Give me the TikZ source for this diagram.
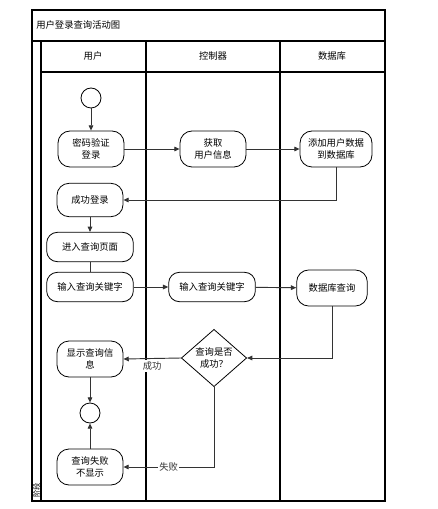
\documentclass[tikz,border=0pt]{standalone}
\usepackage{fontspec}
\setmainfont{Noto Sans CJK SC}
\usepackage{tikz}
\usetikzlibrary{arrows.meta, positioning, shapes.geometric}

\begin{document}
\begin{tikzpicture}[
    x=0.75pt, y=-0.75pt,
    font=\fontsize{7}{8.5}\selectfont,
    action/.style={rectangle, draw, rounded corners=9pt, minimum width=49.5pt, minimum height=27pt, align=center, inner sep=1pt, line width=0.6pt},
    wideaction/.style={action, rounded corners=8pt, minimum width=65pt, minimum height=22pt},
    decision/.style={diamond, draw, minimum width=49pt, minimum height=37.5pt, align=center, inner sep=0pt, line width=0.6pt},
    state/.style={circle, draw, minimum size=15pt, inner sep=0pt, line width=0.6pt},
    arrow/.style={-{Triangle[length=4pt, width=3.5pt]}, line width=0.7pt, draw=black!80},
    link/.style={line width=0.7pt, draw=black!80},
    frame/.style={line width=0.8pt},
    label/.style={fill=white, inner sep=1pt, text=black!80}
]
    \useasboundingbox (0,0) rectangle (437,509);

    % Frame and lanes
    \draw[frame] (32,10) rectangle (385,501);
    \draw[frame] (32,41) -- (385,41);
    \draw[frame] (41,72) -- (385,72);
    \draw[frame] (41,41) -- (41,501);
    \draw[frame] (146,41) -- (146,501);
    \draw[frame] (280,41) -- (280,501);
    \node[anchor=west, inner sep=0pt] (title) at (36,25) {用户登录查询活动图};
    \node (lane_user) at (93,56) {用户};
    \node (lane_ctrl) at (213,56) {控制器};
    \node (lane_db) at (332,56) {数据库};
    \node[rotate=90, font=\fontsize{5.5}{6}\selectfont, inner sep=0pt] (stage) at (36.5,490) {阶段};

    % Login
    \node[state] (start) at (91,98) {};
    \node[action] (pwd) at (91,149) {密码验证\\登录};
    \node[action] (fetch) at (213,149) {获取\\用户信息};
    \node[action, minimum width=54pt] (add) at (336,149) {添加用户数据\\到数据库};
    \node[action, minimum height=25pt] (succ) at (90,200) {成功登录};

    % Query
    \node[wideaction] (enter) at (90,247) {进入查询页面};
    \node[wideaction] (input_u) at (90,287) {输入查询关键字};
    \node[wideaction] (input_c) at (212,287) {输入查询关键字};
    \node[action, minimum width=53pt] (dbq) at (332,288) {数据库查询};
    \node[decision] (check) at (214,358) {查询是否\\成功？};
    \node[action] (show) at (90,359) {显示查询信\\息};
    \node[state] (finish) at (90,413) {};
    \node[action] (fail) at (90,467) {查询失败\\不显示};

    % Arrows
    \draw[arrow] (start) -- (pwd);
    \draw[arrow] (pwd) -- (fetch);
    \draw[arrow] (fetch) -- (add);
    \draw[arrow] (add.south) |- (succ.east);
    \draw[arrow] (succ) -- (enter);
    \draw[link] (enter) -- (input_u);
    \draw[arrow] (input_u) -- (input_c);
    \draw[arrow] (input_c) -- (dbq);
    \draw[arrow] (dbq.south) |- (check.east);
    \draw[arrow] (check.west) -- node[below, label, yshift=-1pt] {成功} (show.east);
    \draw[arrow] (show) -- (finish);
    \draw[arrow] (fail) -- (finish);
    \draw[arrow] (check.south) |- node[pos=0.75, label] {失败} (fail.east);
\end{tikzpicture}
\end{document}
